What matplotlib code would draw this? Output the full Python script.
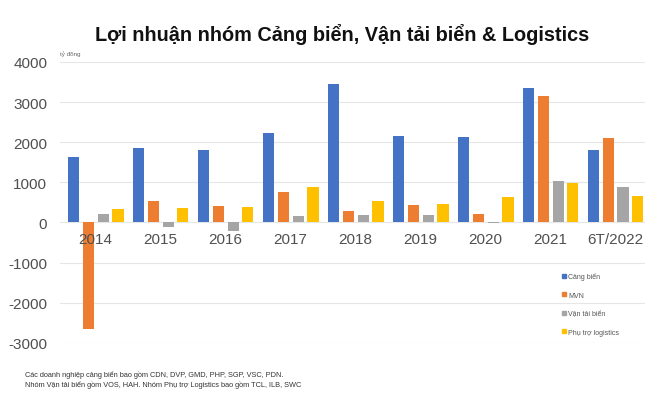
import matplotlib
matplotlib.use('Agg')
import matplotlib.pyplot as plt
import numpy as np
from matplotlib.lines import Line2D

plt.rcParams['font.family'] = ['Liberation Sans', 'DejaVu Sans']
plt.rcParams['axes.unicode_minus'] = False

# data (tỷ đồng)
years = ['2014', '2015', '2016', '2017', '2018', '2019', '2020', '2021', '6T/2022']
cang_bien = [1630, 1860, 1795, 2230, 3460, 2155, 2125, 3360, 1810]
mvn = [-2650, 525, 400, 755, 290, 425, 215, 3160, 2100]
van_tai_bien = [205, -120, -215, 165, 180, 195, -20, 1025, 890]
phu_tro = [345, 360, 395, 875, 525, 465, 630, 990, 670]

series_names = ['Cảng biển', 'MVN', 'Vận tải biển', 'Phụ trợ logistics']
colors = ['#4472C4', '#ED7D31', '#A5A5A5', '#FFC000']
series = [cang_bien, mvn, van_tai_bien, phu_tro]

fig = plt.figure(figsize=(6.5, 4.06), dpi=100)
ax = fig.add_axes([0.092, 0.153, 0.9, 0.692])

x = np.arange(len(years))
slot = 0.23
width = 0.17
for i, (vals, c) in enumerate(zip(series, colors)):
    ax.bar(x + (i - 1.5) * slot, vals, width=width, color=c, zorder=2)

ax.set_ylim(-3000, 4000)
ax.set_xlim(-0.55, 8.45)
ax.set_yticks(np.arange(-3000, 4001, 1000))
ax.set_axisbelow(True)
ax.grid(axis='y', color='#e6e6e6', linewidth=0.8)
ax.set_xticks([])
for s in ax.spines.values():
    s.set_visible(False)
ax.tick_params(axis='y', length=0, pad=9, labelsize=11, labelcolor='#505050')

# category labels sit just below the zero line, over the bars
for xi, lab in zip(x, years):
    ax.text(xi, -230, lab, ha='center', va='top', fontsize=11,
            color='#505050', zorder=5)

ax.text(0.0, 1.02, 'tỷ đồng', transform=ax.transAxes, fontsize=4.5,
        color='#666666', ha='left', va='bottom')

handles = [Line2D([], [], marker='s', linestyle='none', markersize=3,
                  color=c) for c in colors]
ax.legend(handles, series_names, loc='upper left',
          bbox_to_anchor=(0.852, 0.262), frameon=False, fontsize=5,
          labelcolor='#555555', handletextpad=0.1, labelspacing=1.65,
          handlelength=0.8, borderpad=0)

fig.text(0.527, 0.914, 'Lợi nhuận nhóm Cảng biển, Vận tải biển & Logistics',
         ha='center', va='center', fontsize=14.3, fontweight='bold',
         color='#111111')

fig.text(0.038, 0.076, 'Các doanh nghiệp cảng biển bao gồm CDN, DVP, GMD, PHP, SGP, VSC, PDN.',
         fontsize=5.3, color='#333333', ha='left', va='center')
fig.text(0.038, 0.053, 'Nhóm Vận tải biển gồm VOS, HAH. Nhóm Phụ trợ Logistics bao gồm TCL, ILB, SWC',
         fontsize=5.3, color='#333333', ha='left', va='center')

fig.savefig('out.png', dpi=100, facecolor='white')
